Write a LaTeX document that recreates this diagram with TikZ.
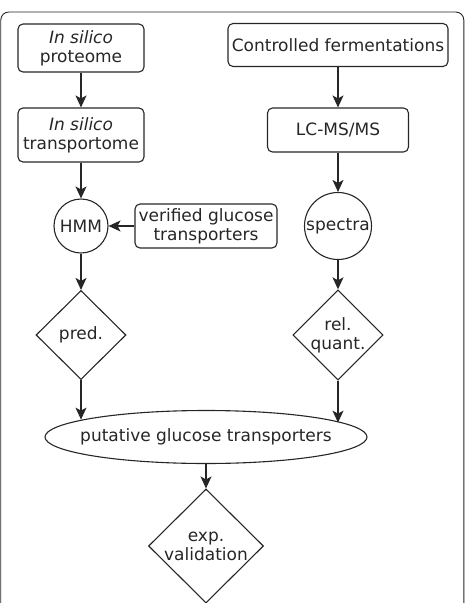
\documentclass[tikz,border=0pt]{standalone}
\usepackage{fontspec}
\setmainfont{DejaVu Sans}
\usetikzlibrary{arrows.meta,shapes.geometric}

\begin{document}
\begin{tikzpicture}[x=1pt,y=-1pt,line width=1.1pt,color=black!85,
  font=\fontsize{17}{19}\selectfont,
  box/.style={draw,rounded corners=5pt,align=center,inner sep=0pt},
  circ/.style={draw,circle,inner sep=0pt},
  dec/.style={draw,diamond,align=center,inner sep=0pt},
  >={Stealth[length=12pt,width=11pt,inset=3pt]}]
\useasboundingbox (0,0) rectangle (465,603);
\clip (0,0) rectangle (465,603);
\draw[rounded corners=8pt,line width=0.9pt] (0.8,12) rectangle (463.8,650);
% left branch
\node[box,minimum width=126,minimum height=48] (prot) at (81,48) {\textit{In silico}\\proteome};
\node[box,minimum width=126,minimum height=54] (trans) at (81,135) {\textit{In silico}\\transportome};
\node[circ,minimum size=54] (hmm) at (81,226) {HMM};
\node[box,minimum width=142,minimum height=44] (verif) at (206,226) {verified glucose\\transporters};
\node[dec,minimum width=90,minimum height=89] (pred) at (81,335) {pred.};
% right branch
\node[box,minimum width=220,minimum height=43] (ferm) at (338,45) {Controlled fermentations};
\node[box,minimum width=141,minimum height=44] (lcms) at (338,130) {LC-MS/MS};
\node[circ,minimum size=67] (spec) at (338,226) {spectra};
\node[dec,minimum width=90,minimum height=89] (rel) at (338,335) {rel.\\quant.};
% merge
\node[draw,ellipse,inner xsep=-14pt,inner ysep=0pt,minimum width=322,minimum height=53] (put) at (206,437) {putative glucose transporters};
\node[dec,minimum width=115,minimum height=114] (exp) at (206,546) {exp.\\validation};
\draw[->] (prot)--(trans);
\draw[->] (trans)--(hmm);
\draw[->] (verif)--(hmm);
\draw[->] (hmm)--(pred);
\draw[->] (pred)--(pred |- put.172.4);
\draw[->] (ferm)--(lcms);
\draw[->] (lcms)--(spec);
\draw[->] (spec)--(rel);
\draw[->] (rel)--(rel |- put.6.6);
\draw[->] (put)--(exp);
\end{tikzpicture}
\end{document}
